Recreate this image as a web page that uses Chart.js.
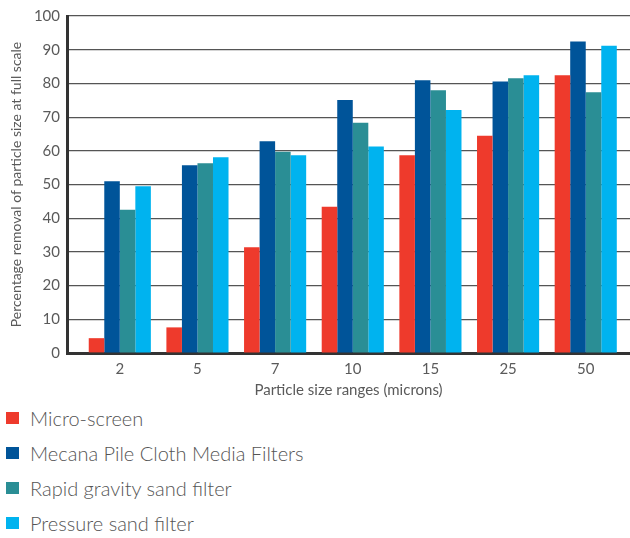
<!DOCTYPE html>
<html>
<head>
<meta charset="utf-8">
<script src="https://cdn.jsdelivr.net/npm/chart.js"></script>
<style>
  body { margin: 0; background: #fff; font-family: Lato, 'Open Sans', sans-serif; }
  .chart-box { position: relative; width: 630px; height: 400px; }
  .legend { list-style: none; margin: 0; padding: 0; }
  .legend li { display: flex; align-items: center; height: 35px; font-size: 20px; color: #555; font-weight: 300; }
  .legend .swatch { width: 13px; height: 12px; margin: 0 11px 0 6px; }
</style>
</head>
<body>
<div class="chart-box"><canvas id="chart"></canvas></div>
<ul class="legend" id="legend"></ul>
<script>
// particle size ranges (microns)
const sizes = ['2', '5', '7', '10', '15', '25', '50'];

// percentage removal at full scale
const microScreen   = [4.4, 7.6, 31.4, 43.4, 58.7, 64.5, 82.4];
const mecana        = [51.0, 55.7, 62.8, 75.1, 80.9, 80.6, 92.4];
const rapidGravity  = [42.5, 56.3, 59.7, 68.3, 78.0, 81.5, 77.4];
const pressureSand  = [49.5, 58.1, 58.7, 61.3, 72.1, 82.4, 91.2];

const seriesNames  = ['Micro-screen', 'Mecana Pile Cloth Media Filters', 'Rapid gravity sand filter', 'Pressure sand filter'];
const seriesColors = ['#ee3a2c', '#005499', '#2a8e95', '#00b3ef'];
const seriesValues = [microScreen, mecana, rapidGravity, pressureSand];

const textColor = '#5a5a5a';
const font = 'Lato, "Open Sans", sans-serif';

const datasets = seriesValues.map((vals, i) => ({
  label: seriesNames[i],
  data: vals.map((v, k) => ({ x: k, y: v })),
  backgroundColor: seriesColors[i],
  borderWidth: 0,
  categoryPercentage: 0.8,
  barPercentage: 1.0
}));

new Chart(document.getElementById('chart'), {
  type: 'bar',
  data: { datasets },
  options: {
    responsive: true,
    maintainAspectRatio: false,
    animation: false,
    layout: { padding: { top: 12, right: 0, left: 0, bottom: 0 } },
    plugins: {
      legend: { display: false },
      tooltip: { enabled: false }
    },
    scales: {
      x: {
        type: 'linear',
        offset: false,
        min: -0.68,
        max: 6.57,
        afterBuildTicks: scale => { scale.ticks = sizes.map((_, i) => ({ value: i })); },
        afterFit: scale => { scale.height = 47; },
        grid: { display: false, drawTicks: false, offset: false },
        border: { display: true, color: '#333', width: 3 },
        ticks: {
          autoSkip: false,
          padding: 7,
          color: textColor,
          font: { family: font, size: 15 },
          callback: v => sizes[v] ?? ''
        },
        title: {
          display: true,
          text: 'Particle size ranges (microns)',
          color: textColor,
          font: { family: font, size: 15 },
          padding: { top: 0, bottom: 1 }
        }
      },
      y: {
        min: 0,
        max: 100,
        afterFit: scale => { scale.width = 67; },
        grid: { color: '#555', lineWidth: 1.2, drawTicks: false },
        border: { display: true, color: '#333', width: 3 },
        ticks: {
          stepSize: 10,
          padding: 7,
          color: textColor,
          font: { family: font, size: 15 }
        },
        title: {
          display: true,
          text: 'Percentage removal of particle size at full scale',
          color: textColor,
          font: { family: font, size: 14 },
          padding: { top: 8, bottom: 0 }
        }
      }
    }
  }
});

// legend, one item per line
const legend = document.getElementById('legend');
seriesNames.forEach((name, i) => {
  const li = document.createElement('li');
  li.innerHTML = `<span class="swatch" style="background:${seriesColors[i]}"></span>${name}`;
  legend.appendChild(li);
});
</script>
</body>
</html>
